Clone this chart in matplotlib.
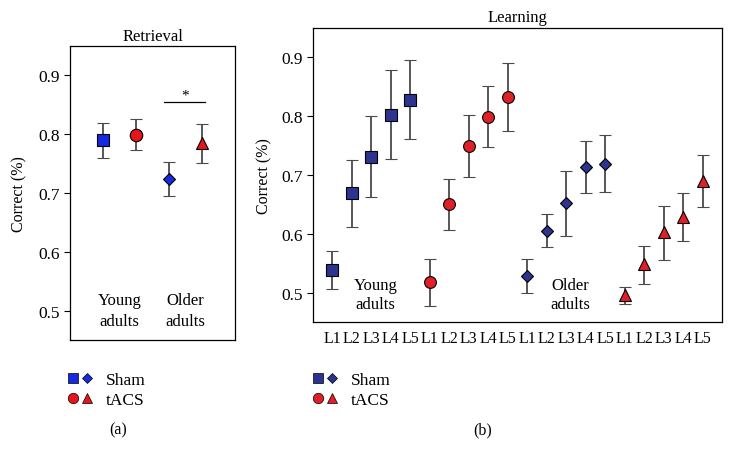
import matplotlib
matplotlib.use("Agg")
import matplotlib.pyplot as plt
from matplotlib.legend_handler import HandlerTuple
from matplotlib.lines import Line2D
import numpy as np

plt.rcParams['font.family'] = ['Liberation Serif', 'DejaVu Serif']

# Retrieval (panel a): young sham, young tACS, older sham, older tACS
ret_mean = [0.789, 0.799, 0.723, 0.784]
ret_low = [0.760, 0.772, 0.695, 0.750]
ret_high = [0.818, 0.826, 0.753, 0.817]

# Learning (panel b), blocks L1..L5
young_sham = [0.538, 0.669, 0.731, 0.802, 0.828]
young_sham_lo = [0.506, 0.612, 0.662, 0.727, 0.762]
young_sham_hi = [0.571, 0.726, 0.801, 0.878, 0.895]

young_tacs = [0.518, 0.651, 0.749, 0.799, 0.832]
young_tacs_lo = [0.478, 0.607, 0.697, 0.747, 0.775]
young_tacs_hi = [0.558, 0.694, 0.802, 0.851, 0.890]

older_sham = [0.528, 0.605, 0.653, 0.714, 0.719]
older_sham_lo = [0.499, 0.577, 0.597, 0.670, 0.671]
older_sham_hi = [0.558, 0.634, 0.707, 0.758, 0.768]

older_tacs = [0.496, 0.548, 0.603, 0.629, 0.690]
older_tacs_lo = [0.481, 0.514, 0.556, 0.588, 0.646]
older_tacs_hi = [0.510, 0.580, 0.648, 0.670, 0.734]

blocks = ['L1', 'L2', 'L3', 'L4', 'L5']
yticks = [0.5, 0.6, 0.7, 0.8, 0.9]

BLUE_A = '#1628e0'
RED_A = '#e8141c'
NAVY = '#2c3490'
RED_B = '#e02028'
ECOL = '#4a4a4a'

fig = plt.figure(figsize=(7.33, 4.6), dpi=100)
axa = fig.add_axes([0.0955, 0.2587, 0.2251, 0.6398])
axb = fig.add_axes([0.427, 0.2978, 0.558, 0.639])

# ---- panel (a)
styles_a = [('s', BLUE_A, 8.5), ('o', RED_A, 9), ('D', BLUE_A, 6.5), ('^', RED_A, 8.5)]
for i, (m, c, ms) in enumerate(styles_a):
    yerr = [[ret_mean[i] - ret_low[i]], [ret_high[i] - ret_mean[i]]]
    axa.errorbar([i], [ret_mean[i]], yerr=yerr, fmt=m, color=c, mec='black', mew=0.8,
                 ms=ms, ecolor=ECOL, elinewidth=1.3, capsize=4.5, capthick=1.3, zorder=3)
axa.set_xlim(-1, 4)
axa.set_ylim(0.45, 0.95)
axa.set_yticks(yticks)
axa.set_yticklabels(['0.5', '0.6', '0.7', '0.8', '0.9'])
axa.set_xticks([])
axa.tick_params(axis='y', labelsize=12.5, length=4, direction='out')
axa.set_ylabel('Correct (%)', fontsize=11.5, labelpad=8)
axa.set_title('Retrieval', fontsize=12, pad=4)
axa.text(0.5, 0.50, 'Young\nadults', ha='center', va='center', fontsize=12, linespacing=1.35)
axa.text(2.5, 0.50, 'Older\nadults', ha='center', va='center', fontsize=12, linespacing=1.35)
axa.plot([1.85, 3.1], [0.855, 0.855], color='black', lw=0.9)
axa.text(2.48, 0.855, '*', ha='center', va='bottom', fontsize=11)

# ---- panel (b)
groups = [
    (young_sham, young_sham_lo, young_sham_hi, 's', NAVY, 8.5),
    (young_tacs, young_tacs_lo, young_tacs_hi, 'o', RED_B, 8.5),
    (older_sham, older_sham_lo, older_sham_hi, 'D', NAVY, 6.5),
    (older_tacs, older_tacs_lo, older_tacs_hi, '^', RED_B, 8),
]
for g, (mean, lo, hi, m, c, ms) in enumerate(groups):
    x = np.arange(5) + 5 * g
    mean = np.array(mean)
    yerr = [mean - np.array(lo), np.array(hi) - mean]
    axb.errorbar(x, mean, yerr=yerr, fmt=m, color=c, mec='black', mew=0.8, ms=ms,
                 ecolor=ECOL, elinewidth=1.3, capsize=4.5, capthick=1.3, zorder=3)
axb.set_xlim(-1, 20)
axb.set_ylim(0.45, 0.95)
axb.set_yticks(yticks)
axb.set_yticklabels(['0.5', '0.6', '0.7', '0.8', '0.9'])
axb.set_xticks(np.arange(20))
axb.set_xticklabels(blocks * 4)
axb.tick_params(axis='x', length=0, labelsize=11.5, pad=6)
axb.tick_params(axis='y', labelsize=12.5, length=4, direction='out')
axb.set_ylabel('Correct (%)', fontsize=11.5, labelpad=6)
axb.set_title('Learning', fontsize=12, pad=5)
axb.text(2.2, 0.497, 'Young\nadults', ha='center', va='center', fontsize=12, linespacing=1.2)
axb.text(12.2, 0.497, 'Older\nadults', ha='center', va='center', fontsize=12, linespacing=1.2)

for ax in (axa, axb):
    for s in ax.spines.values():
        s.set_linewidth(0.9)

# ---- legends
def leg_handles(c_sham, c_tacs):
    sq = Line2D([], [], ls='none', marker='s', color=c_sham, mec='black', mew=0.5, ms=7)
    di = Line2D([], [], ls='none', marker='D', color=c_sham, mec='black', mew=0.5, ms=5.5)
    ci = Line2D([], [], ls='none', marker='o', color=c_tacs, mec='black', mew=0.5, ms=7.5)
    tr = Line2D([], [], ls='none', marker='^', color=c_tacs, mec='black', mew=0.5, ms=7.5)
    return [(sq, di), (ci, tr)]

for hs, xpos in ((leg_handles(BLUE_A, RED_A), 0.083), (leg_handles(NAVY, RED_B), 0.417)):
    fig.legend(hs, ['Sham', 'tACS'], handler_map={tuple: HandlerTuple(ndivide=None, pad=0.2)},
               loc='upper left', bbox_to_anchor=(xpos, 0.205), frameon=False, fontsize=12.5,
               handlelength=1.4, handletextpad=0.8, labelspacing=0.25, borderaxespad=0)

fig.text(0.161, 0.065, '(a)', ha='center', va='center', fontsize=11.5)
fig.text(0.659, 0.065, '(b)', ha='center', va='center', fontsize=11.5)

fig.savefig('out.png', dpi=100)
